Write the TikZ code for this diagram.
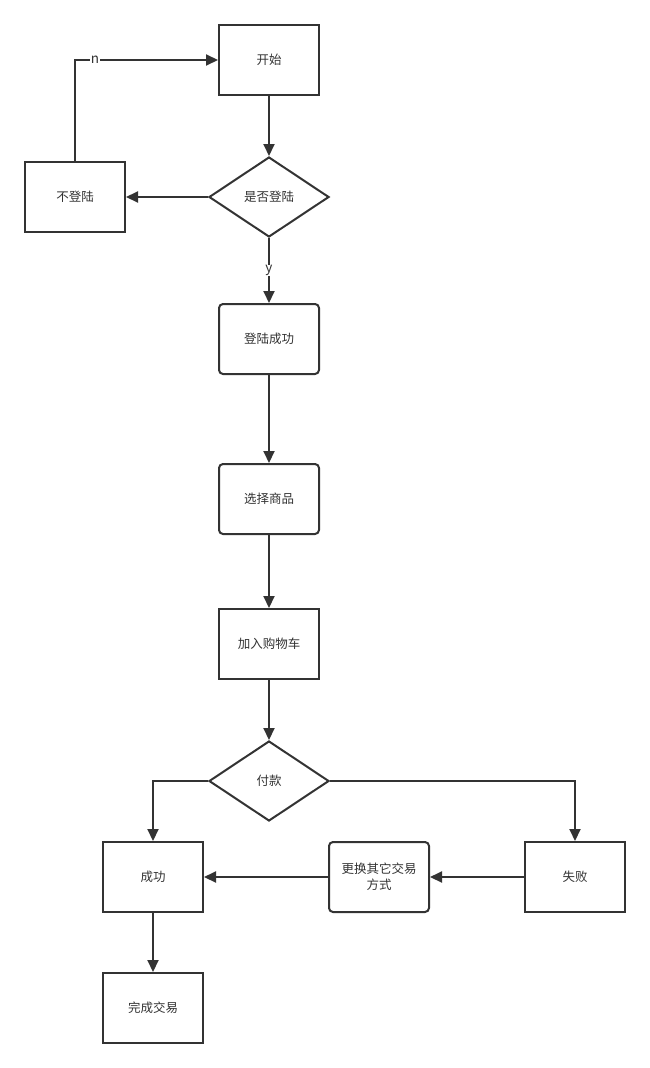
\documentclass[tikz,border=0pt]{standalone}
\usepackage{fontspec}
\newfontfamily\cjk{Noto Sans CJK SC}
\usetikzlibrary{shapes.geometric,arrows.meta}
\definecolor{ln}{HTML}{333333}
\begin{document}
\begin{tikzpicture}[x=1pt,y=-1pt,
  font=\cjk\fontsize{12.5}{16}\selectfont,
  every node/.style={text=ln},
  box/.style={draw=ln,line width=2pt,minimum width=100pt,minimum height=70pt,inner sep=0pt,fill=white},
  rbox/.style={box,rounded corners=4pt},
  dia/.style={draw=ln,line width=2pt,diamond,aspect=1.5,minimum width=120pt,minimum height=80pt,inner sep=0pt,fill=white},
  conn/.style={draw=ln,line width=2pt,-{Triangle[length=12pt,width=11pt]}},
  lbl/.style={fill=white,inner sep=0.5pt,font=\cjk\fontsize{13.5}{14}\selectfont}]
\fill[white] (0,0) rectangle (650,1068);
\useasboundingbox (0,0) rectangle (650,1068);
\node[box] (start) at (269,60) {开始};
\node[dia] (login) at (269,197) {是否登陆};
\node[box] (nologin) at (75,197) {不登陆};
\node[rbox] (ok) at (269,339) {登陆成功};
\node[rbox] (sel) at (269,499) {选择商品};
\node[box] (cart) at (269,644) {加入购物车};
\node[dia] (pay) at (269,781) {付款};
\node[box] (succ) at (153,877) {成功};
\node[rbox,align=center] (chg) at (379,877) {更换其它交易\\方式};
\node[box] (fail) at (575,877) {失败};
\node[box] (done) at (153,1008) {完成交易};
\coordinate (c1) at (75,60);
\draw[conn] (start) -- (login);
\draw[conn] (login.west) -- (nologin.east);
\draw[conn] (nologin.north) -- (c1) -- node[lbl,pos=0.14]{n} (start.west);
\draw[conn] (login.south) -- node[lbl,pos=0.5]{y} (ok.north);
\draw[conn] (ok) -- (sel);
\draw[conn] (sel) -- (cart);
\draw[conn] (cart) -- (pay);
\draw[conn] (pay.west) -| (succ.north);
\draw[conn] (pay.east) -| (fail.north);
\draw[conn] (fail.west) -- (chg.east);
\draw[conn] (chg.west) -- (succ.east);
\draw[conn] (succ) -- (done);
\end{tikzpicture}
\end{document}
